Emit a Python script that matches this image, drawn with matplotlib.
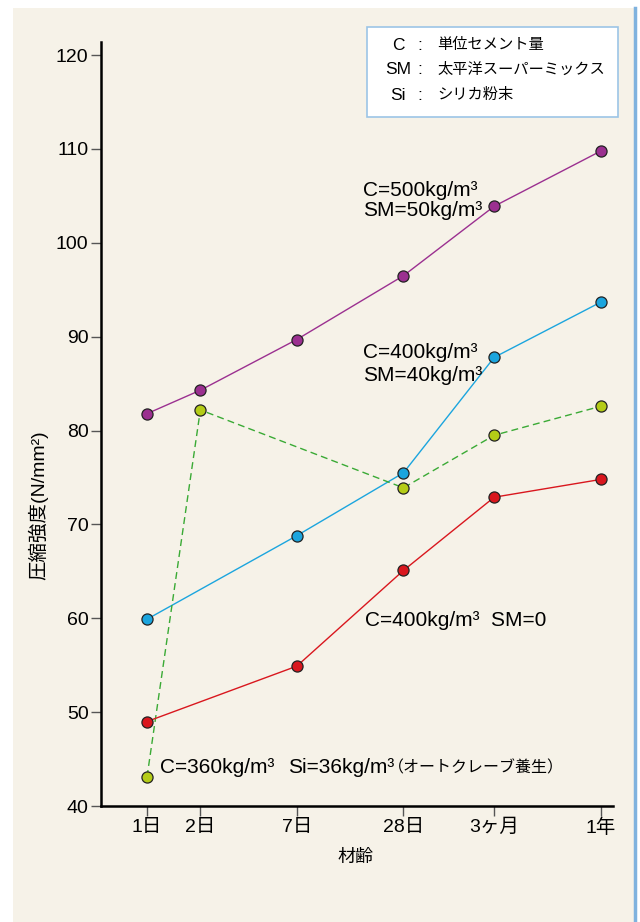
import matplotlib
matplotlib.use("Agg")
import matplotlib.pyplot as plt
from matplotlib.patches import Rectangle

# ages in days (log axis) and tick labels
ages = [1, 2, 7, 28, 91, 365]
age_labels = ["1日", "2日", "7日", "28日", "3ヶ月", "1年"]

# compressive strength (N/mm2)
purple_x = [1, 2, 7, 28, 91, 365]
purple_y = [81.8, 84.3, 89.7, 96.5, 103.9, 109.8]
blue_x = [1, 7, 28, 91, 365]
blue_y = [59.9, 68.8, 75.5, 87.8, 93.7]
green_x = [1, 2, 28, 91, 365]
green_y = [43.1, 82.2, 73.9, 79.5, 82.6]
red_x = [1, 7, 28, 91, 365]
red_y = [49.0, 54.9, 65.1, 72.9, 74.8]

yticks = [40, 50, 60, 70, 80, 90, 100, 110, 120]

FONT = ["Liberation Sans", "Noto Sans CJK JP"]
plt.rcParams["font.family"] = FONT

fig = plt.figure(figsize=(6.4, 9.22), dpi=100)
fig.patch.set_facecolor("white")

# cream panel + blue right edge
fig.patches.append(Rectangle((13 / 640, 0), (634 - 13) / 640, 1 - 8 / 922,
                             transform=fig.transFigure, facecolor="#f6f2e8",
                             edgecolor="none", zorder=-5))
fig.lines.append(plt.Line2D([635 / 640, 635 / 640], [0, 1 - 8 / 922],
                            transform=fig.transFigure, color="#7fb2de", lw=2.5,
                            zorder=-4))

ax = fig.add_axes([101 / 640, 1 - 806 / 922, (613 - 101) / 640, (806 - 42) / 922])
ax.set_zorder(2)
ax.set_facecolor("none")
ax.set_xscale("log")
ax.set_xlim(0.55, 426)
ax.set_ylim(40, 121.4)

mk = dict(marker="o", markersize=8, markeredgecolor="#222222", markeredgewidth=0.9, zorder=3)
ax.plot(purple_x, purple_y, color="#9b3090", lw=1.0, markerfacecolor="#9b3090", **mk)
ax.plot(blue_x, blue_y, color="#1ba5de", lw=1.0, markerfacecolor="#1ba5de", **mk)
ax.plot(green_x, green_y, color="#3aaa35", lw=1.0, ls=(0, (5, 3)), markerfacecolor="#b4cc17", **mk)
ax.plot(red_x, red_y, color="#d9171e", lw=1.0, markerfacecolor="#d9171e", **mk)

ax.set_xticks(ages)
ax.set_xticklabels(age_labels)
ax.minorticks_off()
ax.set_yticks(yticks)
ax.tick_params(axis="both", direction="out", length=7, width=1, color="#555555",
               labelsize=14, pad=2)
for s in ["top", "right"]:
    ax.spines[s].set_visible(False)
for s in ["left", "bottom"]:
    ax.spines[s].set_linewidth(1.8)

fig.text(355 / 640, 1 - 857 / 922, "材齢", ha="center", va="center", fontsize=13)
fig.text(38 / 640, 1 - 505 / 922, "圧縮強度(N/mm²)", ha="center", va="center",
         rotation=90, fontsize=14)

# series annotations
ann = dict(fontsize=15, ha="left", va="center")
ax.text(16.6, 105.6, "C=500kg/m³", **ann)
ax.text(16.6, 103.4, "SM=50kg/m³", **ann)
ax.text(16.6, 88.3, "C=400kg/m³", **ann)
ax.text(16.6, 85.9, "SM=40kg/m³", **ann)
ax.text(17.0, 59.8, "C=400kg/m³  SM=0", **ann)
t1 = ax.text(1.18, 44.1, "C=360kg/m³", **ann)
t2 = ax.annotate("Si=36kg/m³", xy=(1, 0.5), xycoords=t1, xytext=(14, 0),
                 textcoords="offset pixels", fontsize=15, va="center")
ax.annotate("（オートクレーブ養生）", xy=(1, 0.5), xycoords=t2, xytext=(-6, 0),
            textcoords="offset pixels", fontsize=11.5, va="center")

# key box
fig.patches.append(Rectangle((367 / 640, 1 - 117 / 922), 251 / 640, 90 / 922,
                             transform=fig.transFigure, facecolor="white",
                             edgecolor="#9cc5e6", lw=1.2, zorder=1))
keys = [("C", "単位セメント量"), ("SM", "太平洋スーパーミックス"), ("Si", "シリカ粉末")]
for i, (k, v) in enumerate(keys):
    y = 1 - (45 + 25 * i) / 922
    fig.text(398 / 640, y, k, ha="center", va="center", fontsize=12.5, zorder=3)
    fig.text(420 / 640, y, ":", ha="center", va="center", fontsize=12.5, zorder=3)
    fig.text(437 / 640, y, v, ha="left", va="center", fontsize=11, zorder=3)

fig.savefig("out.png", dpi=100, facecolor=fig.get_facecolor())
